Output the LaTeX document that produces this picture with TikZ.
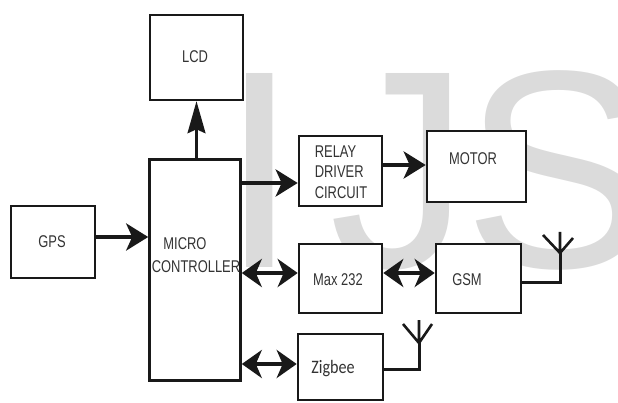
\documentclass[tikz,border=0pt]{standalone}
\usepackage{fontspec}
\usetikzlibrary{arrows.meta}
\newfontfamily\lblfont[FakeStretch=0.76]{Liberation Sans}
\newfontfamily\wmfont{Liberation Sans}
\newfontfamily\zbfont[FakeStretch=0.85]{Carlito}
\begin{document}
\begin{tikzpicture}[x=1pt,y=-1pt,
  box/.style={draw=black!90, line width=2.6pt, fill=white, inner sep=0pt},
  lbl/.style={inner sep=0pt, font=\lblfont\fontsize{17}{20.5}\selectfont, text=black!80},
  wm/.style={anchor=base west, inner sep=0pt, text=black!14, font=\wmfont\fontsize{282}{282}\selectfont},
  arr/.style={line width=4pt, draw=black!90, -{Stealth[length=22pt,width=27pt,inset=6pt]}},
  darr/.style={line width=4pt, draw=black!90, {Stealth[length=20pt,width=28pt,inset=6pt]}-{Stealth[length=20pt,width=28pt,inset=6pt]}},
  uparr/.style={line width=2.2pt, draw=black!90, -{Stealth[length=32pt,width=18pt,inset=4pt]}},
  wire/.style={line width=3pt, draw=black!90}]
\useasboundingbox (0,0) rectangle (618,403);
% watermark
\node[wm] (wmI) at (220,268) {I};
\node[wm] (wmJ) at (329,268) {J};
\node[wm] (wmS) at (463,268) {S};
% boxes
\node[box, minimum width=93pt, minimum height=85pt] (LCD) at (196.5,57.5) {};
\node[box, minimum width=91pt, minimum height=221pt] (MC) at (195,270) {};
\node[box, minimum width=84pt, minimum height=72pt] (GPS) at (53,242) {};
\node[box, minimum width=83pt, minimum height=70pt] (RELAY) at (340.5,171) {};
\node[box, minimum width=99pt, minimum height=71pt] (MOTOR) at (476.5,166.5) {};
\node[box, minimum width=83pt, minimum height=69pt] (MAX) at (340.5,278.5) {};
\node[box, minimum width=85pt, minimum height=69pt] (GSM) at (478.5,278.5) {};
\node[box, minimum width=85pt, minimum height=66pt] (ZIG) at (340.5,367) {};
% labels
\node[lbl] (tLCD) at (195,57) {LCD};
\node[lbl] (tGPS) at (52,242) {GPS};
\node[lbl] (tMICRO) at (185,244) {MICRO};
\node[lbl] (tCTRL) at (196,267) {CONTROLLER};
\node[lbl, align=left] (tRELAY) at (341,172) {RELAY\\DRIVER\\CIRCUIT};
\node[lbl] (tMOTOR) at (473,159) {MOTOR};
\node[lbl] (tMAX) at (338,280) {Max 232};
\node[lbl] (tGSM) at (467,280) {GSM};
\node[inner sep=0pt, font=\zbfont\fontsize{19}{22}\selectfont, text=black!80] (tZIG) at (333,369) {Zigbee};
% connectors
\draw[uparr] (LCD.south |- MC.north) -- (LCD.south);
\draw[arr] ([yshift=5pt]GPS.east) -- ([yshift=5pt]GPS.east -| MC.west);
\draw[arr] ([yshift=-12pt]RELAY.west -| MC.east) -- ([yshift=-12pt]RELAY.west);
\draw[arr] ([yshift=6pt]RELAY.east) -- ([yshift=6pt]RELAY.east -| MOTOR.west);
\draw[darr] ([yshift=5.5pt]MAX.west -| MC.east) -- ([yshift=5.5pt]MAX.west);
\draw[darr] ([yshift=5.5pt]MAX.east) -- ([yshift=5.5pt]MAX.east -| GSM.west);
\draw[darr] ([yshift=3pt]ZIG.west -| MC.east) -- ([yshift=3pt]ZIG.west);
% antennas
\coordinate (gsmA) at (560,253);
\coordinate (gsmTop) at (560,232);
\coordinate (gsmL) at (543,235);
\coordinate (gsmR) at (573,238);
\draw[wire] ([yshift=-3.5pt]GSM.east) -| (gsmA);
\draw[line width=2.6pt, draw=black!90] (gsmA) -- (gsmTop) (gsmL) -- (gsmA) -- (gsmR);
\coordinate (zbA) at (419,343);
\coordinate (zbTop) at (419,320);
\coordinate (zbL) at (403,324);
\coordinate (zbR) at (432,324);
\draw[wire] ([yshift=-2pt]ZIG.east) -| (zbA);
\draw[line width=2.6pt, draw=black!90] (zbA) -- (zbTop) (zbL) -- (zbA) -- (zbR);
\end{tikzpicture}
\end{document}
